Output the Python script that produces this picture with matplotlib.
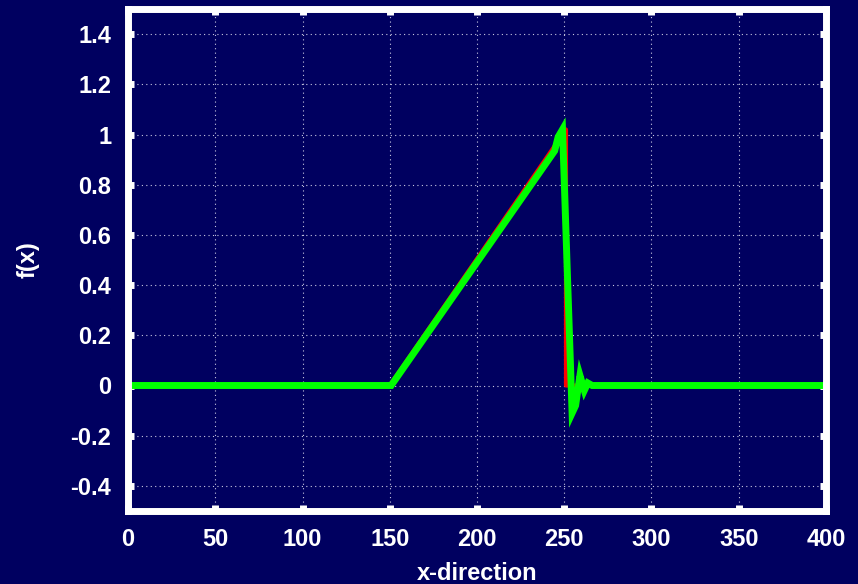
import matplotlib
matplotlib.use("Agg")
import matplotlib.pyplot as plt

# exact solution (red) and numerical solution (green)
exact_x = [0, 150, 251, 251, 400]
exact_y = [0, 0, 1.02, 0, 0]

num_x = [0, 150.8, 244.5, 246.5, 249, 254.5, 256.5, 259, 261.5, 263.5, 266, 400]
num_y = [0, 0, 0.935, 0.99, 1.02, -0.11, -0.08, 0.04, -0.02, 0.01, 0, 0]

x_ticks = [0, 50, 100, 150, 200, 250, 300, 350, 400]
y_ticks = [-0.4, -0.2, 0, 0.2, 0.4, 0.6, 0.8, 1, 1.2, 1.4]
y_labels = ["-0.4", "-0.2", "0", "0.2", "0.4", "0.6", "0.8", "1", "1.2", "1.4"]

bg = "#000060"
plt.rcParams['font.family'] = ['Liberation Sans', 'DejaVu Sans']
plt.rcParams['font.weight'] = 'bold'

fig = plt.figure(figsize=(8.58, 5.84), dpi=100, facecolor=bg)
ax = fig.add_axes([128 / 858, 1 - 511 / 584, 698 / 858, 502 / 584])
ax.set_facecolor(bg)

ax.plot(exact_x, exact_y, color="#ff0000", lw=3)
ax.plot(num_x, num_y, color="#00ff00", lw=5, solid_joinstyle="miter")

ax.set_xlim(0, 400)
ax.set_ylim(-0.5, 1.5)
ax.set_xticks(x_ticks)
ax.set_yticks(y_ticks)
ax.set_yticklabels(y_labels)

ax.grid(True, color="#c8c8e0", linestyle=(0, (1, 3)), linewidth=0.8)
for s in ax.spines.values():
    s.set_color("white")
    s.set_linewidth(5)
ax.tick_params(direction="in", length=4, width=5, color="white",
               top=True, right=True, labelcolor="white", labelsize=17)
ax.tick_params(axis="x", pad=12)
ax.tick_params(axis="y", pad=12)
for lab in ax.get_xticklabels() + ax.get_yticklabels():
    lab.set_fontweight("bold")

ax.set_xlabel("x-direction", color="white", fontsize=17, fontweight="bold", labelpad=8)
ax.set_ylabel("f(x)", color="white", fontsize=17, fontweight="bold", labelpad=22)

fig.savefig("out.png", facecolor=bg)
